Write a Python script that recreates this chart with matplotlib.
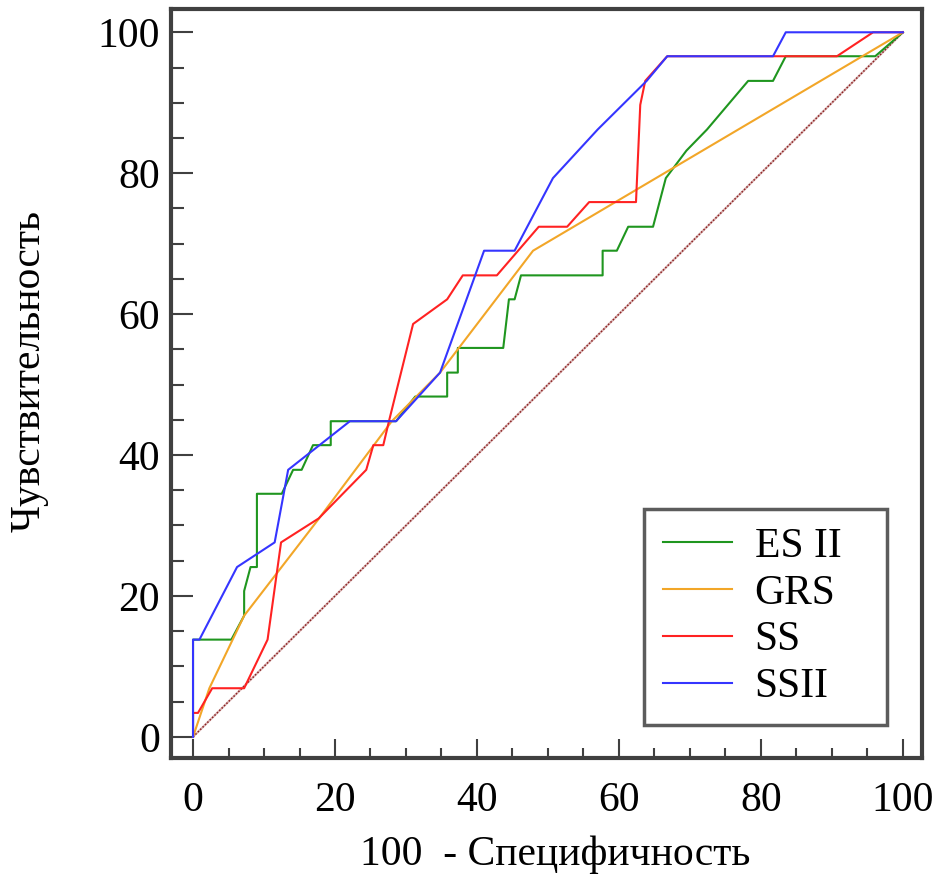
import matplotlib
matplotlib.use("Agg")
import matplotlib.pyplot as plt
from matplotlib.ticker import MultipleLocator

# ROC curves: (100 - specificity, sensitivity) in percent
es2_x = [0, 0, 5.4, 7.2, 7.2, 8.1, 9.0, 9.0, 12.5, 14.1, 15.3, 16.9, 19.4, 19.4,
         22.1, 28.6, 31.3, 35.8, 35.8, 37.3, 37.3, 43.7, 44.5, 45.3, 46.2, 57.7,
         57.7, 59.7, 61.3, 64.8, 66.6, 69.5, 72.4, 78.2, 81.7, 83.5, 96.1, 100]
es2_y = [0, 13.8, 13.8, 17.2, 20.7, 24.1, 24.1, 34.5, 34.5, 37.9, 37.9, 41.4, 41.4, 44.8,
         44.8, 44.8, 48.3, 48.3, 51.7, 51.7, 55.2, 55.2, 62.1, 62.1, 65.5, 65.5,
         69.0, 69.0, 72.4, 72.4, 79.3, 83.2, 86.2, 93.1, 93.1, 96.6, 96.6, 100]

grs_x = [0, 2.3, 7.2, 17.6, 28.0, 34.8, 47.9, 100]
grs_y = [0, 6.9, 17.2, 30.8, 44.8, 51.7, 69.0, 100]

ss_x = [0, 0, 0.7, 2.7, 7.2, 10.5, 12.4, 17.7, 24.4, 25.4, 26.8, 27.6, 31.0, 35.8,
        38.0, 42.8, 48.7, 52.7, 55.8, 62.4, 63.0, 63.7, 66.8, 90.7, 95.8, 100]
ss_y = [0, 3.4, 3.4, 6.9, 6.9, 13.8, 27.6, 31.0, 37.9, 41.4, 41.4, 44.8, 58.6, 62.1,
        65.5, 65.5, 72.4, 72.4, 75.9, 75.9, 89.7, 93.1, 96.6, 96.6, 100, 100]

ss2_x = [0, 0, 0.9, 6.2, 11.5, 13.4, 22.1, 28.6, 34.8, 41.0, 45.3, 50.7, 57.0,
         63.9, 66.8, 81.7, 83.5, 100]
ss2_y = [0, 13.8, 13.8, 24.1, 27.6, 37.9, 44.8, 44.8, 51.7, 69.0, 69.0, 79.3, 86.2,
         93.1, 96.6, 96.6, 100, 100]

curves = [
    ("ES II", es2_x, es2_y, "#1f961f"),
    ("GRS", grs_x, grs_y, "#f2a628"),
    ("SS", ss_x, ss_y, "#ff2222"),
    ("SSII", ss2_x, ss2_y, "#3535ff"),
]

plt.rcParams['font.family'] = ['Liberation Serif', 'DejaVu Serif']
frame_color = '#404040'

fig = plt.figure(figsize=(9.33, 8.77), dpi=100)
ax = fig.add_axes([0.1833, 0.1357, 0.805, 0.854])

# reference diagonal
ax.plot([0, 100], [0, 100], color='#dcb8b8', lw=1.6, zorder=1)
ax.plot([0, 100], [0, 100], color='#8b2222', lw=1.1, linestyle=(0, (1, 1.2)), zorder=1)

for name, xs, ys, col in curves:
    ax.plot(xs, ys, color=col, lw=1.5, label=name, zorder=2)

ax.set_xlim(-3.1, 102.7)
ax.set_ylim(-3.0, 103.3)

ax.xaxis.set_major_locator(MultipleLocator(20))
ax.xaxis.set_minor_locator(MultipleLocator(5))
ax.yaxis.set_major_locator(MultipleLocator(20))
ax.yaxis.set_minor_locator(MultipleLocator(5))

ax.tick_params(axis='both', which='both', direction='in', color=frame_color,
               width=1.5, labelsize=30)
ax.tick_params(axis='x', which='major', length=13.5, pad=17)
ax.tick_params(axis='x', which='minor', length=7.5)
ax.tick_params(axis='y', which='major', length=16, pad=8)
ax.tick_params(axis='y', which='minor', length=9.5)

for sp in ax.spines.values():
    sp.set_linewidth(3)
    sp.set_color(frame_color)

ax.set_xlabel("100  - Специфичность", fontsize=30)
ax.xaxis.set_label_coords(0.511, -0.104)
ax.set_ylabel("Чувствительность", fontsize=30, va='center')
ax.yaxis.set_label_coords(-0.188, 0.517)

# legend box stretched to a fixed width in the lower right corner
leg = ax.legend(loc='lower left', bbox_to_anchor=(0.630, 0.044, 0.323, 0.2),
                mode='expand', borderaxespad=0,
                fontsize=30, frameon=True, fancybox=False, handlelength=1.65,
                handletextpad=0.55, labelspacing=0.2, borderpad=0.45)
leg.get_frame().set_edgecolor('#333333')
leg.get_frame().set_linewidth(2.5)
for line in leg.get_lines():
    line.set_linewidth(1.5)

fig.savefig("out.png", dpi=100)
